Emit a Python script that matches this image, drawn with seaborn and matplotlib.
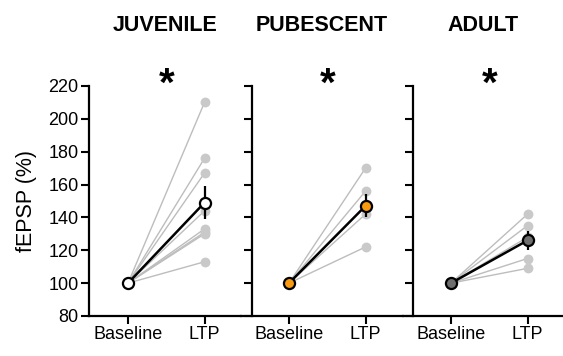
import numpy as np
import pandas as pd
import matplotlib
matplotlib.use("Agg")
import matplotlib.pyplot as plt
import seaborn as sns

sns.set_theme(style="ticks")
plt.rcParams['font.family'] = ['Liberation Sans', 'DejaVu Sans']
plt.rcParams['text.color'] = 'black'
plt.rcParams['axes.labelcolor'] = 'black'

conditions = ["Baseline", "LTP"]
groups = ["JUVENILE", "PUBESCENT", "ADULT"]
juvenile_ltp = [210, 176, 167, 144, 133, 131, 130, 113]
pubescent_ltp = [170, 156, 142, 122]
adult_ltp = [142, 135, 128, 115, 109]
group_ltp = [juvenile_ltp, pubescent_ltp, adult_ltp]
mean_values = [[100, 149], [100, 147], [100, 126]]
sem_values = [[0, 10], [0, 7], [0, 6]]
mean_colors = ["#FFFFFF", "#F79A10", "#6E6E6E"]
yticks = [80, 100, 120, 140, 160, 180, 200, 220]

W, H = 563, 356
fig = plt.figure(figsize=(W / 100, H / 100), dpi=100)

# (axes left px, axes right px, baseline px, y-spine px)
layout = [(89, 241, 128, 89), (241, 403, 289, 252), (403, 563, 451, 413)]
top_px, bot_px = 86, 316
pxu = 76.5

for i, (grp, ltp) in enumerate(zip(groups, group_ltp)):
    l, r, b0, sp = layout[i]
    ax = fig.add_axes([l / W, 1 - bot_px / H, (r - l) / W, (bot_px - top_px) / H])
    ax.set_xlim((l - b0) / pxu, (r - b0) / pxu)
    ax.set_ylim(80, 220)

    rows = []
    for k, v in enumerate(ltp):
        rows.append({"subj": k, "x": 0, "y": 100})
        rows.append({"subj": k, "x": 1, "y": v})
    df = pd.DataFrame(rows)
    sns.lineplot(data=df, x="x", y="y", units="subj", estimator=None, ax=ax,
                 color="#BDBDBD", lw=1.0, legend=False, zorder=2)
    sns.scatterplot(data=df[df.x == 1], x="x", y="y", ax=ax, color="#C9C9C9",
                    s=50, linewidth=0, legend=False, zorder=3)

    ax.errorbar([0, 1], mean_values[i], yerr=sem_values[i], color="black",
                lw=1.8, elinewidth=1.6, capsize=0, zorder=4)
    ax.plot([0, 1], mean_values[i], 'o', ms=8, mfc=mean_colors[i], mec="black",
            mew=1.6, zorder=5, clip_on=False)

    ax.text(0.5, 220.5, "*", ha="center", va="center", fontsize=29, fontweight="bold",
            clip_on=False)
    ax.text(0.5, 1.265, grp, transform=ax.transAxes, ha="center", va="center",
            fontsize=15.5, fontweight="bold")

    ax.set_xticks([0, 1])
    ax.set_xticklabels(conditions)
    ax.set_yticks(yticks)
    if i == 0:
        ax.set_yticklabels([str(t) for t in yticks])
        ax.set_ylabel("fEPSP (%)", fontsize=15.5, labelpad=8)
    else:
        ax.set_yticklabels([])
        ax.set_ylabel("")
    ax.set_xlabel("")
    ax.spines['left'].set_position(('data', (sp - b0) / pxu))
    for s in ['top', 'right']:
        ax.spines[s].set_visible(False)
    for s in ['left', 'bottom']:
        ax.spines[s].set_linewidth(1.6)
        ax.spines[s].set_color("black")
    ax.tick_params(axis='both', direction='out', length=6, width=1.5, color="black",
                   labelcolor="black", labelsize=13, pad=1.5)
    ax.patch.set_visible(False)

fig.savefig("out.png", dpi=100)
